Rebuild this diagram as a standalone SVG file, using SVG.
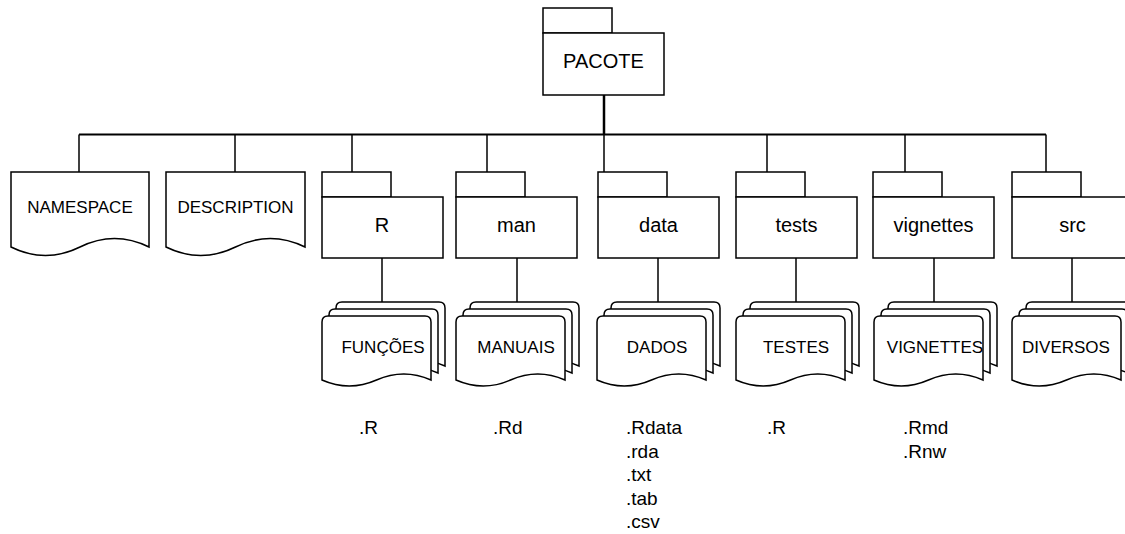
<svg xmlns="http://www.w3.org/2000/svg" xmlns:xlink="http://www.w3.org/1999/xlink" width="1125" height="534" viewBox="0 0 1125 534">
<style>
.s{fill:#fff;stroke:#000;stroke-width:1.5;stroke-linejoin:miter}
.c{fill:none;stroke:#000;stroke-width:1.5}
.t{font-family:"Liberation Sans",Arial,Helvetica,sans-serif;fill:#000;text-anchor:middle}
.f{font-size:20px}
.d{font-size:17px}
.e{font-family:"Liberation Sans",Arial,Helvetica,sans-serif;fill:#000;font-size:19px}
</style>
<defs>
<path id="page" d="M0,64 V6 Q0,0 6,0 H103 Q109,0 109,6 V64 Q81.75,52 54.5,64 T0,64 Z"/>
<g id="folder">
<rect x="0" y="0" width="69" height="25"/>
<rect x="0" y="25" width="121" height="61"/>
</g>
<g id="stack">
<use xlink:href="#page" x="14" y="-14"/>
<use xlink:href="#page" x="7" y="-7"/>
<use xlink:href="#page" x="0" y="0"/>
</g>
</defs>
<rect width="1125" height="534" fill="#fff"/>

<g id="connectors">
<line class="c" x1="604" y1="95" x2="604" y2="134.5" style="stroke-width:2.5"/>
<line class="c" x1="79" y1="134.5" x2="1046" y2="134.5" style="stroke-width:2"/>
<line class="c" x1="79" y1="134.5" x2="79" y2="172"/>
<line class="c" x1="235" y1="134.5" x2="235" y2="172"/>
<line class="c" x1="352" y1="134.5" x2="352" y2="172"/>
<line class="c" x1="487" y1="134.5" x2="487" y2="172"/>
<line class="c" x1="604" y1="134.5" x2="604" y2="172"/>
<line class="c" x1="767" y1="134.5" x2="767" y2="172"/>
<line class="c" x1="905" y1="134.5" x2="905" y2="172"/>
<line class="c" x1="1046" y1="134.5" x2="1046" y2="172"/>
<line class="c" x1="382" y1="258" x2="382" y2="302"/>
<line class="c" x1="517" y1="258" x2="517" y2="302"/>
<line class="c" x1="658" y1="258" x2="658" y2="302"/>
<line class="c" x1="796" y1="258" x2="796" y2="302"/>
<line class="c" x1="934" y1="258" x2="934" y2="302"/>
<line class="c" x1="1072" y1="258" x2="1072" y2="302"/>
</g>

<g id="pacote">
<rect class="s" x="543" y="8" width="69" height="25"/>
<rect class="s" x="543" y="33" width="121" height="62"/>
<text class="t f" x="603.5" y="68">PACOTE</text>
</g>

<g id="namespace">
<path class="s" d="M11,172 H149 V247 Q114.5,230 80,247 T11,247 Z"/>
<text class="t d" x="80" y="213">NAMESPACE</text>
</g>
<g id="description">
<path class="s" d="M166,172 H305 V247 Q270.25,230 235.5,247 T166,247 Z"/>
<text class="t d" x="235.5" y="213">DESCRIPTION</text>
</g>

<g id="folder-R">
<use class="s" xlink:href="#folder" x="322" y="172"/>
<text class="t f" x="382" y="232">R</text>
</g>
<g id="folder-man">
<use class="s" xlink:href="#folder" x="456" y="172"/>
<text class="t f" x="516.5" y="232">man</text>
</g>
<g id="folder-data">
<use class="s" xlink:href="#folder" x="598" y="172"/>
<text class="t f" x="658.5" y="232">data</text>
</g>
<g id="folder-tests">
<use class="s" xlink:href="#folder" x="736" y="172"/>
<text class="t f" x="796.5" y="232">tests</text>
</g>
<g id="folder-vignettes">
<use class="s" xlink:href="#folder" x="873" y="172"/>
<text class="t f" x="933.5" y="232">vignettes</text>
</g>
<g id="folder-src">
<use class="s" xlink:href="#folder" x="1012" y="172"/>
<text class="t f" x="1072.5" y="232">src</text>
</g>

<g id="funcoes">
<use class="s" xlink:href="#stack" x="322" y="316"/>
<text class="t d" x="383" y="353">FUNÇÕES</text>
</g>
<g id="manuais">
<use class="s" xlink:href="#stack" x="456" y="316"/>
<text class="t d" x="516" y="353">MANUAIS</text>
</g>
<g id="dados">
<use class="s" xlink:href="#stack" x="597" y="316"/>
<text class="t d" x="657" y="353">DADOS</text>
</g>
<g id="testes">
<use class="s" xlink:href="#stack" x="736" y="316"/>
<text class="t d" x="796" y="353">TESTES</text>
</g>
<g id="vignettes-docs">
<use class="s" xlink:href="#stack" x="874" y="316"/>
<text class="t d" x="935" y="353">VIGNETTES</text>
</g>
<g id="diversos">
<use class="s" xlink:href="#stack" x="1012" y="316"/>
<text class="t d" x="1066" y="353">DIVERSOS</text>
</g>

<g id="ext-R"><text class="e" x="359" y="434">.R</text></g>
<g id="ext-man"><text class="e" x="493" y="434">.Rd</text></g>
<g id="ext-data">
<text class="e" x="626" y="434">.Rdata</text>
<text class="e" x="626" y="457.5">.rda</text>
<text class="e" x="626" y="481">.txt</text>
<text class="e" x="626" y="504.5">.tab</text>
<text class="e" x="626" y="528">.csv</text>
</g>
<g id="ext-tests"><text class="e" x="767" y="434">.R</text></g>
<g id="ext-vignettes">
<text class="e" x="903" y="434">.Rmd</text>
<text class="e" x="903" y="457.5">.Rnw</text>
</g>
</svg>
